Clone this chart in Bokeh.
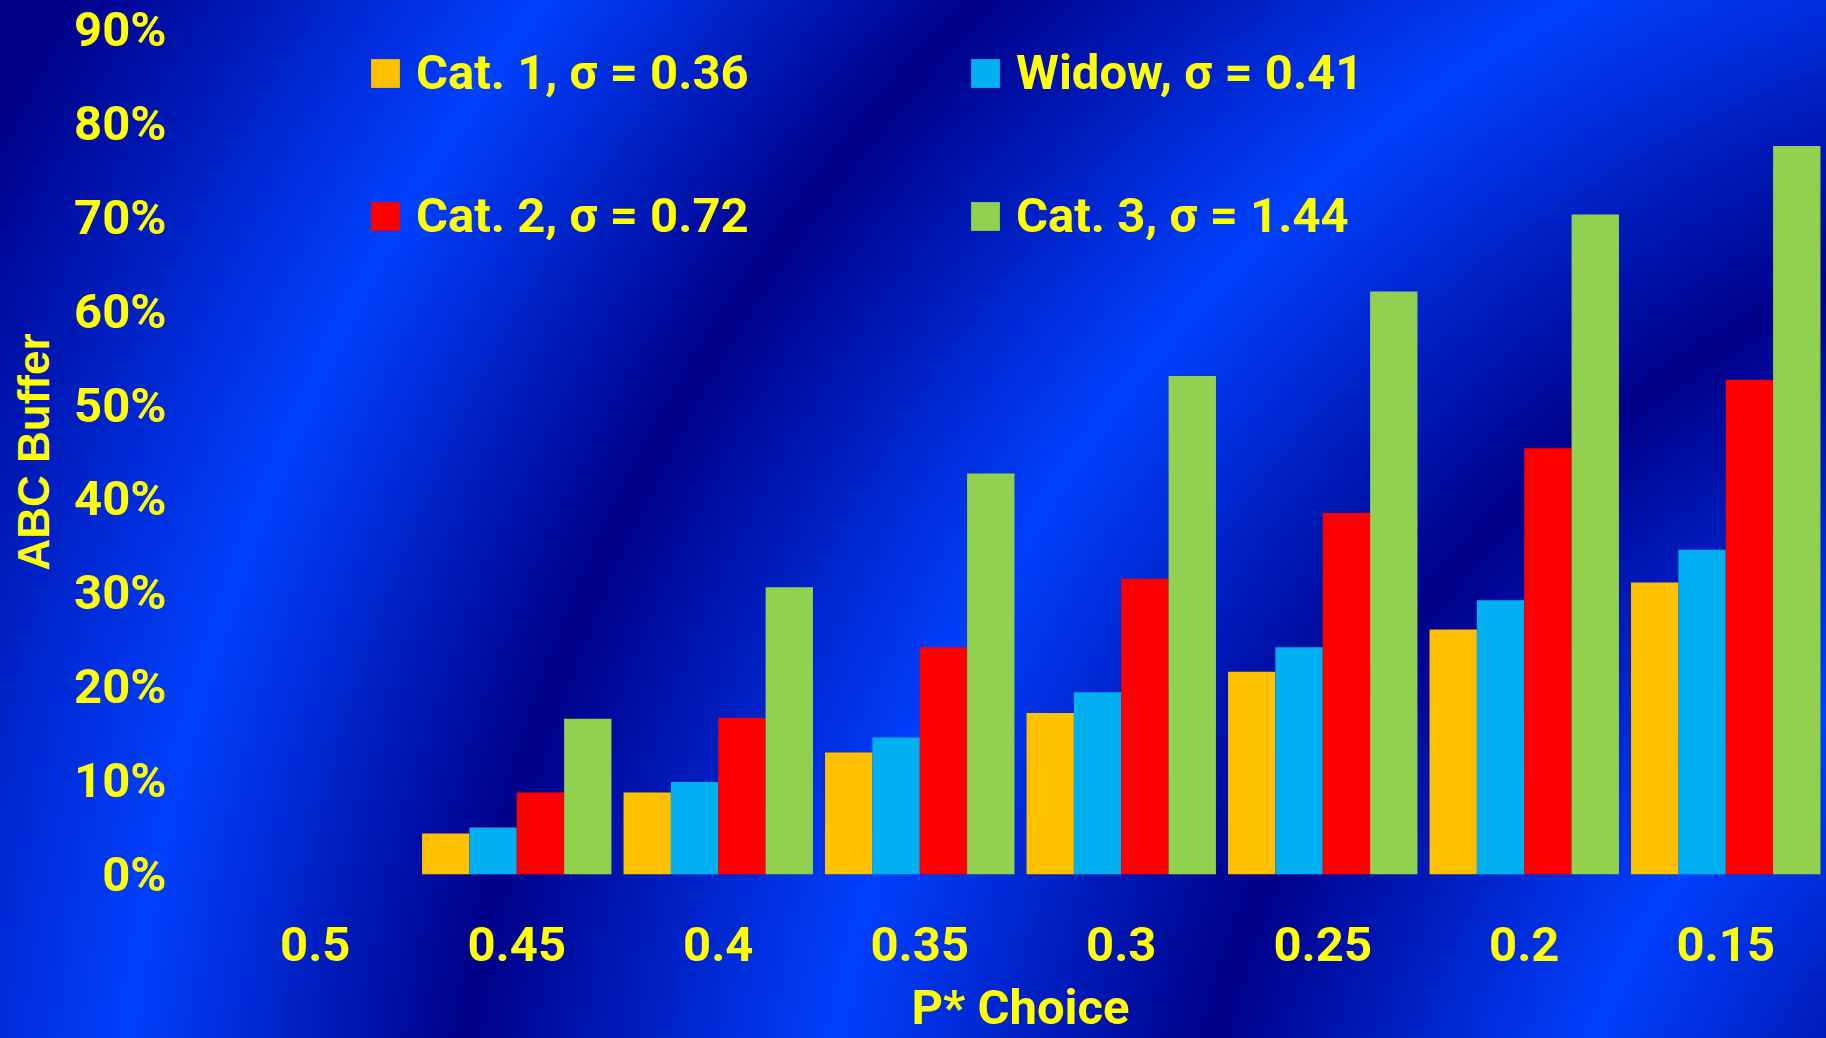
from bokeh.plotting import figure
from bokeh.models import (FactorRange, Range1d, Legend, LegendItem,
                          NumeralTickFormatter, FixedTicker, ColumnDataSource)
from bokeh.transform import dodge
from bokeh.embed import file_html
from bokeh.resources import INLINE

# P* choices along the x axis and the ABC buffer for each stock category
p_choice = ["0.5", "0.45", "0.4", "0.35", "0.3", "0.25", "0.2", "0.15"]
cat1 = [0.0, 0.0437, 0.0873, 0.130, 0.172, 0.216, 0.261, 0.311]
widow = [0.0, 0.050, 0.0986, 0.146, 0.194, 0.242, 0.292, 0.346]
cat2 = [0.0, 0.0873, 0.167, 0.242, 0.315, 0.385, 0.454, 0.527]
cat3 = [0.0, 0.166, 0.306, 0.427, 0.531, 0.621, 0.703, 0.776]

series_keys = ["cat1", "widow", "cat2", "cat3"]
series_labels = ["Cat. 1, σ = 0.36", "Widow, σ = 0.41",
                 "Cat. 2, σ = 0.72", "Cat. 3, σ = 1.44"]
series_colors = ["#FFC000", "#00B0F0", "#FF0000", "#92D050"]
y_ticks = [0.0, 0.1, 0.2, 0.3, 0.4, 0.5, 0.6, 0.7, 0.8, 0.9]

YELLOW = "#FFFF00"
TEXT_FONT = "Roboto"

source = ColumnDataSource(dict(p=p_choice, cat1=cat1, widow=widow,
                               cat2=cat2, cat3=cat3))

p = figure(width=1826, height=1038,
           x_range=FactorRange(factors=p_choice, range_padding=0),
           y_range=Range1d(0, 0.9),
           output_backend="svg", toolbar_location=None,
           min_border_left=214, min_border_right=0,
           min_border_top=29, min_border_bottom=164)

# transparent canvas over a rippled blue backdrop
p.border_fill_color = None
p.background_fill_color = None
p.outline_line_color = None
p.styles = {
    "background": (
        "radial-gradient(circle at 2311px 1309px, "
        "#0040FF 0px, #000088 400px, #0040FF 767px, #000088 1130px, "
        "#0040FF 1500px, #000088 1865px, #0040FF 2200px, #000088 2600px, "
        "#000088 3000px)"
    )
}

bar_w = 0.235
offsets = [-1.5 * bar_w, -0.5 * bar_w, 0.5 * bar_w, 1.5 * bar_w]
renderers = []
for key, color, off in zip(series_keys, series_colors, offsets):
    r = p.vbar(x=dodge("p", off, range=p.x_range), top=key, width=bar_w,
               source=source, fill_color=color, line_color=None)
    renderers.append(r)

p.grid.visible = False

# y axis
p.yaxis.ticker = FixedTicker(ticks=y_ticks)
p.yaxis.formatter = NumeralTickFormatter(format="0%")
p.yaxis.axis_label = "ABC Buffer"
p.yaxis.axis_label_text_font = "Liberation Sans"
p.yaxis.axis_label_text_font_style = "bold"
p.yaxis.axis_label_text_font_size = "44px"
p.yaxis.axis_label_text_color = YELLOW
p.yaxis.axis_label_standoff = 13
p.yaxis.major_label_standoff = 42

# x axis
p.xaxis.axis_label = "P* Choice"
p.xaxis.axis_label_text_font = TEXT_FONT
p.xaxis.axis_label_text_font_style = "bold"
p.xaxis.axis_label_text_font_size = "49px"
p.xaxis.axis_label_text_color = YELLOW
p.xaxis.axis_label_standoff = 15
p.xaxis.major_label_standoff = 46

for ax in (p.xaxis, p.yaxis):
    ax.axis_line_color = None
    ax.major_tick_line_color = None
    ax.minor_tick_line_color = None
    ax.major_label_text_font = TEXT_FONT
    ax.major_label_text_font_style = "bold"
    ax.major_label_text_font_size = "49px"
    ax.major_label_text_color = YELLOW

legend = Legend(
    items=[LegendItem(label=lab, renderers=[r])
           for lab, r in zip(series_labels, renderers)],
    orientation="horizontal", ncols=2,
    location=(153, 630),
    glyph_width=36, glyph_height=36,
    label_standoff=13, label_width=465,
    spacing=86, padding=0, margin=0,
    label_text_font=TEXT_FONT, label_text_font_style="bold",
    label_text_font_size="49px", label_text_color=YELLOW,
    background_fill_alpha=0, border_line_alpha=0,
)
p.add_layout(legend, "center")

open("out.html", "w").write(file_html(p, INLINE))
